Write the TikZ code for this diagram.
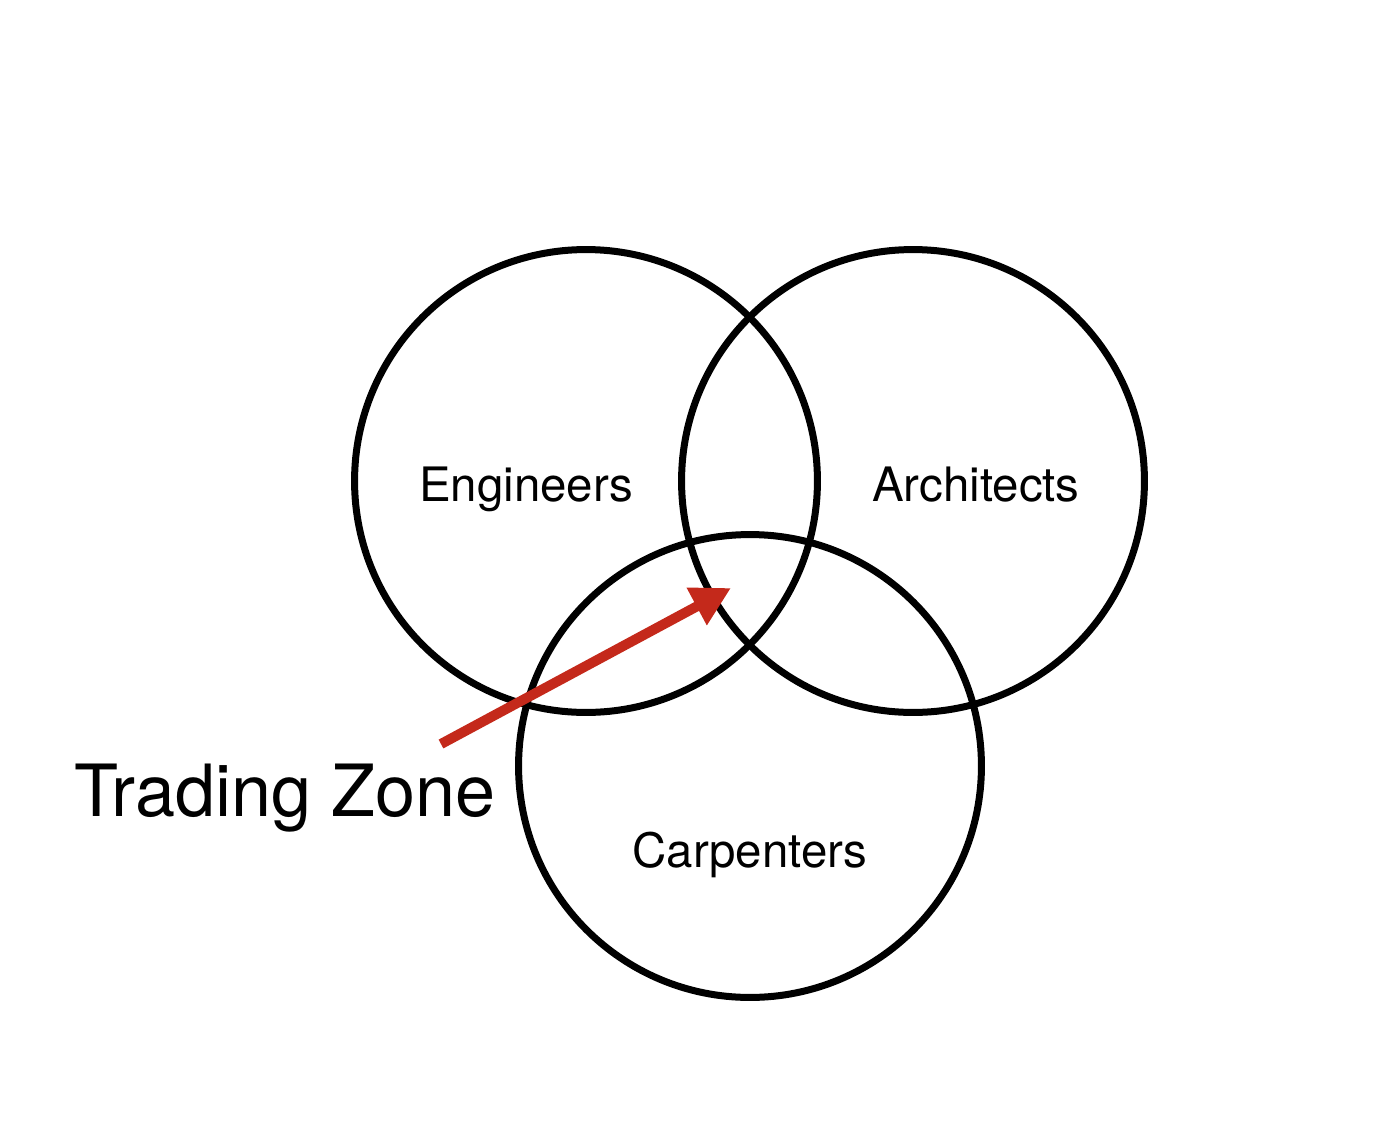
\documentclass[tikz,border=0pt]{standalone}
\usepackage{fontspec}
\setmainfont{TeX Gyre Heros}
\usetikzlibrary{arrows.meta}
\definecolor{zonered}{RGB}{196,41,27}

\tikzset{
    group/.style={draw, circle, line width=0.14cm, minimum size=9.26cm, inner sep=0pt},
    group label/.style={anchor=base, font=\fontsize{27}{31}\selectfont},
}

\begin{document}
\begin{tikzpicture}[x=0.02cm, y=-0.02cm, >={Triangle[length=0.78cm, width=0.8cm]}]

    \useasboundingbox (0,0) rectangle (1394,1140);

    % draw circles
    \foreach \n/\x/\y in {engineers/586/481, architects/913/481, carpenters/750/766}
        \node [group] (\n) at (\x,\y) {};

    % group names
    \foreach \n/\l/\x/\y in {eng/Engineers/526/501, arch/Architects/976/501, carp/Carpenters/750/867}
        \node [group label] (\n-label) at (\x,\y) {\l};

    % trading zone
    \node [anchor=base, font=\fontsize{41}{47}\selectfont] (zone-label) at (285,816) {Trading Zone};
    \coordinate (zone-tail) at (441,744);
    \coordinate (zone) at (731,588);
    \draw [->, zonered, line width=0.2cm] (zone-tail) -- (zone);

\end{tikzpicture}
\end{document}
